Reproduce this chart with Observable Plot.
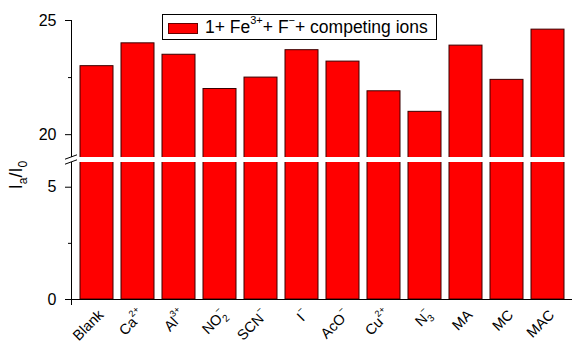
<!DOCTYPE html>
<html><head><meta charset="utf-8">
<script src="https://cdn.jsdelivr.net/npm/d3@7"></script>
<script src="https://cdn.jsdelivr.net/npm/@observablehq/plot@0.6"></script>
<style>
body{margin:0;background:#fff;font-family:"Liberation Sans",Arial,sans-serif;}
#wrap{position:relative;width:572px;height:346px;}
#legend{position:absolute;left:162px;top:14px;width:273px;height:24px;border:1px solid #000;background:#fff;display:flex;align-items:center;font-size:17.5px;color:#000;white-space:nowrap;}
#legend .sw{width:28px;height:9px;background:#ff0000;border:1px solid #600;margin-left:5px;margin-right:7px;margin-top:2px;flex:none;}
#legend sup{font-size:11px;position:relative;top:-2px;}
</style></head>
<body><div id="wrap"></div>
<script>
const categories = ["Blank","Ca","Al","NO","SCN","I","AcO","Cu","N","MA","MC","MAC"];
const labelSub = ["","","","2","","","","","3","","",""];
const labelSup = ["","2+","3+","\u2212","\u2212","\u2212","\u2212","2+","\u2212","","",""];
const values = [23.0, 24.0, 23.5, 22.0, 22.5, 23.7, 23.2, 21.9, 21.0, 23.9, 22.4, 24.6];
const yTicks = [0, 5, 20, 25];
const yMinorTicks = [2.5, 22.5];
const breakLow = 6.1, breakHigh = 19;

const data = categories.map((c, i) => ({cat: c, value: values[i]}));

const axisLine = (index, scales, vals, dims) => {
  const g = d3.create("svg:g").attr("stroke", "#000").attr("stroke-width", 1);
  const x0 = dims.marginLeft + 0.5;
  g.append("line").attr("x1", x0).attr("x2", x0).attr("y1", scales.y(25)).attr("y2", scales.y(0) + 6);
  return g.node();
};
const breakMarks = (index, scales, vals, dims) => {
  const g = d3.create("svg:g").attr("stroke", "#000").attr("stroke-width", 1);
  const x0 = dims.marginLeft;
  for (const v of [breakHigh, breakLow]) {
    const yy = scales.y(v);
    g.append("line").attr("x1", x0 - 6).attr("x2", x0 + 6).attr("y1", yy + 2.2).attr("y2", yy - 2.2);
  }
  return g.node();
};

const chart = Plot.plot({
  width: 572,
  height: 346,
  marginTop: 20,
  marginBottom: 47,
  marginLeft: 71,
  marginRight: 0,
  style: {fontFamily: "'Liberation Sans', Arial, sans-serif", background: "#fff", color: "#000"},
  x: {domain: categories, paddingInner: 0.2, paddingOuter: 0.1, range: [71, 572]},
  y: {type: "linear", domain: [0, breakLow, breakHigh, 25], range: [299, 162, 157, 20]},
  marks: [
    Plot.barY(data, {x: "cat", y: "value", fill: "#ff0000", stroke: "#3a0000", strokeWidth: 1}),
    Plot.ruleY([0], {stroke: "#000"}),
    axisLine,
    Plot.rect([0], {y1: breakLow, y2: breakHigh, fill: "#fff"}),
    breakMarks,
    Plot.axisY({ticks: yTicks, tickSize: 6, tickPadding: 9, fontSize: 16, label: null, stroke: "#000"}),
    Plot.axisY({ticks: yMinorTicks, tickSize: 3, tickFormat: () => "", label: null, stroke: "#000"}),
    Plot.axisX({tickSize: 0, tickRotate: -45, tickPadding: 4, fontSize: 14.5, label: null, dx: 4, dy: 9})
  ]
});

// rich tick labels (sub/superscripts)
const sel = d3.select(chart);
sel.selectAll('[aria-label="x-axis tick label"] text').each(function() {
  const t = d3.select(this);
  const base = t.text();
  const i = categories.indexOf(base);
  if (i < 0) return;
  t.text(null);
  t.append("tspan").text(base);
  if (labelSub[i] && labelSup[i]) {
    t.append("tspan").attr("font-size", 10).attr("dy", 4).text(labelSub[i]);
    t.append("tspan").attr("font-size", 9).attr("dx", -5.5).attr("dy", -12).text(labelSup[i]);
    t.append("tspan").attr("dy", 8).text("\u200b");
  } else if (labelSup[i]) {
    t.append("tspan").attr("font-size", 9).attr("dy", -8).text(labelSup[i]);
  }
});

// y-axis label I_a/I_0
const yl = sel.append("text")
  .attr("transform", "translate(22,175) rotate(-90)")
  .attr("text-anchor", "middle")
  .attr("font-size", 18)
  .attr("fill", "#000")
  .attr("font-family", "'Liberation Sans', Arial, sans-serif");
yl.append("tspan").text("I");
yl.append("tspan").attr("font-size", 12).attr("dy", 5).text("a");
yl.append("tspan").attr("dy", -5).text("/I");
yl.append("tspan").attr("font-size", 12).attr("dy", 5).text("0");

const wrap = document.getElementById("wrap");
wrap.appendChild(chart);
const leg = document.createElement("div");
leg.id = "legend";
leg.innerHTML = '<div class="sw"></div><span>1+ Fe<sup>3+</sup>+ F<sup>\u2212</sup>+ competing ions</span>';
wrap.appendChild(leg);
</script></body></html>
